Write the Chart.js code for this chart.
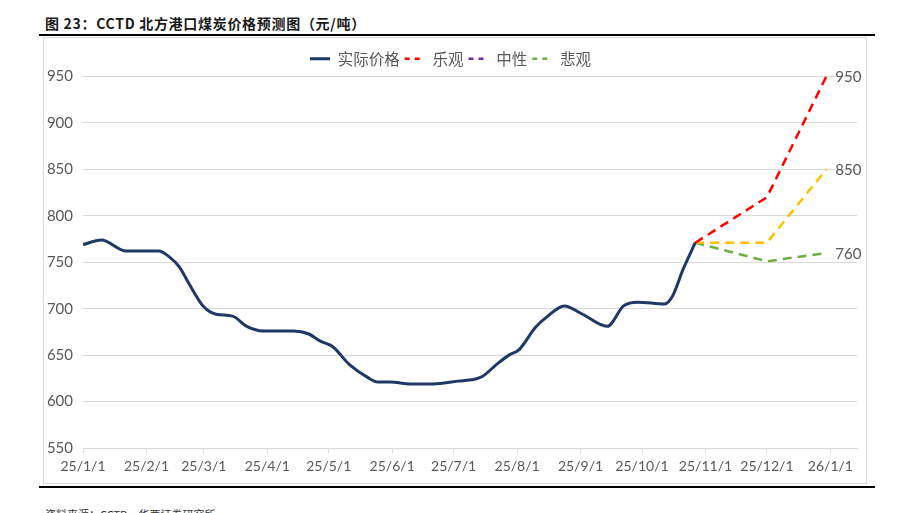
<!DOCTYPE html>
<html>
<head>
<meta charset="utf-8">
<script src="https://cdn.jsdelivr.net/npm/chart.js@4.4.1/dist/chart.umd.min.js"></script>
<style>
  html, body { margin:0; padding:0; background:#fff; width:902px; height:513px; overflow:hidden; }
  #title { position:absolute; left:45px; top:13px; font-family:"Noto Sans CJK SC", sans-serif; font-weight:bold; font-size:14px; letter-spacing:0.7px; color:#1a1a1a; white-space:nowrap; }
  #topline { position:absolute; left:39px; top:34px; width:836px; height:2px; background:#000; }
  #botline { position:absolute; left:39px; top:486px; width:836px; height:2px; background:#000; }
  #box { position:absolute; left:43px; top:37px; width:824px; height:447px; border:1px solid #d9d9d9; box-sizing:border-box; }
  #footer { position:absolute; left:45px; top:506px; font-family:"Noto Sans CJK SC", sans-serif; font-size:11px; color:#333; white-space:nowrap; }
</style>
</head>
<body>
<div id="title">图 23：CCTD 北方港口煤炭价格预测图（元/吨）</div>
<div id="topline"></div>
<div id="box"><canvas id="c" width="822" height="445"></canvas></div>
<div id="botline"></div>
<div id="footer">资料来源：CCTD，华西证券研究所</div>
<script>
// ---- data ----
const actualDates = ['2025-01-01','2025-01-10','2025-01-22','2025-01-29','2025-02-07','2025-02-12','2025-02-17','2025-02-22','2025-03-01','2025-03-07','2025-03-15','2025-03-22','2025-03-30','2025-04-14','2025-04-21','2025-04-27','2025-05-03','2025-05-11','2025-05-20','2025-05-25','2025-05-31','2025-06-10','2025-06-21','2025-07-03','2025-07-11','2025-07-15','2025-07-22','2025-07-28','2025-08-02','2025-08-10','2025-08-16','2025-08-24','2025-09-02','2025-09-14','2025-09-22','2025-09-29','2025-10-12','2025-10-16','2025-10-21','2025-10-27'];
const actualPrice = [769,774,762,762,762,756,745,726,702,694,692,681,676,676,673,665,659,640,626,621,621,619,619,622,624,627,640,650,656,680,692,703,694,681,703,707,705,714,742,771];
const forecastDates = ['2025-10-27','2025-12-01','2025-12-30'];
const optimistic = [771,820,950];
const neutral = [771,771,850];
const pessimistic = [771,751,760];
const tickDates = ['2025-01-01','2025-02-01','2025-03-01','2025-04-01','2025-05-01','2025-06-01','2025-07-01','2025-08-01','2025-09-01','2025-10-01','2025-11-01','2025-12-01','2026-01-01'];
const tickLabels = ['25/1/1','25/2/1','25/3/1','25/4/1','25/5/1','25/6/1','25/7/1','25/8/1','25/9/1','25/10/1','25/11/1','25/12/1','26/1/1'];
const seriesNames = ['实际价格','乐观','中性','悲观'];
const yTicks = [550,600,650,700,750,800,850,900,950];

// ---- helpers ----
const DAY = 86400000;
const base = Date.UTC(2025,0,1);
function dayNum(s){ const p=s.split('-').map(Number); return (Date.UTC(p[0],p[1]-1,p[2])-base)/DAY; }
function pts(dates, vals){ return dates.map((d,i)=>({x:dayNum(d), y:vals[i]})); }
const tickPos = tickDates.map(dayNum);

const navy = '#1F3864', red = '#FF0000', yellow = '#FFC000', green = '#70AD47', purple = '#7030A0';
const legendColors = [navy, red, purple, green];
const txt = '#595959';
const numFont = 'Lato, "Liberation Sans", sans-serif';

const endLabels = {
  id:'endLabels',
  afterDatasetsDraw(chart){
    const ctx = chart.ctx;
    ctx.save();
    ctx.font = '15px ' + numFont;
    ctx.fillStyle = txt;
    ctx.textBaseline = 'middle';
    ctx.textAlign = 'left';
    [1,2,3].forEach(i=>{
      const meta = chart.getDatasetMeta(i);
      const el = meta.data[meta.data.length-1];
      const v = chart.data.datasets[i].data[chart.data.datasets[i].data.length-1].y;
      ctx.fillText(String(v), el.x + 9, el.y + 1);
    });
    ctx.restore();
  }
};

new Chart(document.getElementById('c'), {
  type:'line',
  data:{
    datasets:[
      {label:seriesNames[0], data:pts(actualDates, actualPrice), borderColor:navy, borderWidth:3, pointRadius:0, cubicInterpolationMode:'monotone', fill:false},
      {label:seriesNames[1], data:pts(forecastDates, optimistic), borderColor:red, borderWidth:2.5, borderDash:[9,6], pointRadius:0, tension:0, fill:false},
      {label:seriesNames[2], data:pts(forecastDates, neutral), borderColor:yellow, borderWidth:2.5, borderDash:[9,6], pointRadius:0, tension:0, fill:false},
      {label:seriesNames[3], data:pts(forecastDates, pessimistic), borderColor:green, borderWidth:2.5, borderDash:[9,6], pointRadius:0, tension:0, fill:false}
    ]
  },
  options:{
    responsive:false,
    animation:false,
    layout:{padding:{left:0, right:9, top:8, bottom:0}},
    plugins:{
      tooltip:{enabled:false},
      legend:{
        position:'top',
        labels:{
          usePointStyle:true,
          pointStyleWidth:20,
          boxHeight:8,
          padding:5,
          color:txt,
          font:{family:'"Noto Sans CJK SC", sans-serif', size:15.5},
          generateLabels(chart){
            return chart.data.datasets.map((ds,i)=>({
              text: ds.label,
              fillStyle: legendColors[i],
              strokeStyle: legendColors[i],
              lineWidth: i===0 ? 3 : 2.5,
              lineDash: i===0 ? [] : [5,5],
              pointStyle:'line',
              hidden:false,
              datasetIndex:i,
              fontColor: txt
            }));
          }
        }
      }
    },
    scales:{
      x:{
        type:'linear',
        min:0,
        max:378,
        afterBuildTicks(scale){ scale.ticks = tickPos.map(v=>({value:v})); },
        afterFit(scale){ scale.height = 35; },
        grid:{drawOnChartArea:false, drawTicks:true, tickLength:5, color:'#d9d9d9'},
        border:{display:true, color:'#d9d9d9'},
        ticks:{
          autoSkip:false, maxRotation:0, padding:5, color:txt,
          font:{family:numFont, size:14},
          callback(v){ const i = tickPos.indexOf(v); return i>=0 ? tickLabels[i] : ''; }
        }
      },
      y:{
        min:550, max:950,
        afterBuildTicks(scale){ scale.ticks = yTicks.map(v=>({value:v})); },
        afterFit(scale){ scale.width = 39; },
        grid:{color:'#d9d9d9', drawTicks:false},
        border:{display:false},
        ticks:{padding:10, color:txt, font:{family:numFont, size:15}}
      }
    }
  },
  plugins:[endLabels]
});
</script>
</body>
</html>
